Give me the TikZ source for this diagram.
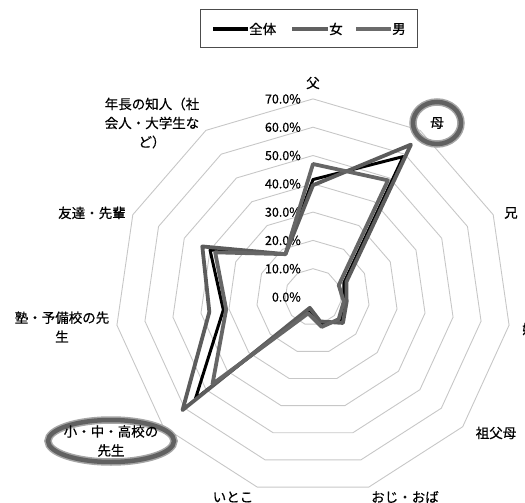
\documentclass[tikz,border=0pt]{standalone}
\usepackage{fontspec}
\setmainfont{Noto Sans CJK JP}[FakeBold=0.5]
\usepackage{tikz}

\tikzset{
  ring/.style={black!22, line width=0.9pt},
  axislabel/.style={font=\fontsize{13.5}{19}\selectfont, align=center, inner sep=0pt},
  pctlabel/.style={font=\fontsize{12.5}{13}\selectfont, anchor=east, inner sep=0pt},
  series/.style={line width=#1, line join=round},
  circlemark/.style={black!62, line width=4.5pt}
}

\begin{document}
\begin{tikzpicture}[x=1pt,y=-1pt]
\useasboundingbox (0,0) rectangle (525,503);
\clip (0,0) rectangle (525,503);

% legend
\draw[black!70, line width=1pt] (200,10) rectangle (417,48);
\draw[black, line width=3.5pt] (213,29) -- (248,29);
\node[axislabel, anchor=west] (lgall) at (249,29) {全体};
\draw[black!62, line width=3.5pt] (292,29) -- (328,29);
\node[axislabel, anchor=west] (lgf) at (329,29) {女};
\draw[black!58, line width=3.5pt] (356,29) -- (391,29);
\node[axislabel, anchor=west] (lgm) at (392,29) {男};

\begin{scope}[shift={(313,297)}]
% rings
\foreach \k in {1,...,7}
  \draw[ring] plot[samples at={0,...,10}] (\x*360/11-90:28.3*\k) -- cycle;

% scale
\foreach \k in {0,...,7}{
  \pgfmathtruncatemacro\v{10*\k}
  \node[pctlabel] (pct\k) at (-12,-28.3*\k) {\v.0\%};
}

% data: 全体, 女, 男
\foreach \v [count=\i from 0] in {41.5,59,12,11,13,10,5,55,32,40,18}
  \coordinate (a\i) at (\i*360/11-90:2.83*\v);
\foreach \v [count=\i from 0] in {39.5,64,13,12,14,9,4,61,37,43,18}
  \coordinate (f\i) at (\i*360/11-90:2.83*\v);
\foreach \v [count=\i from 0] in {47,49,10,11,12,11,6,47,31,38,18}
  \coordinate (m\i) at (\i*360/11-90:2.83*\v);

\draw[series=3pt, black] (a0) \foreach \i in {1,...,10}{ -- (a\i)} -- cycle;
\draw[series=3.8pt, black!64] (f0) \foreach \i in {1,...,10}{ -- (f\i)} -- cycle;
\draw[series=3.8pt, black!60] (m0) \foreach \i in {1,...,10}{ -- (m\i)} -- cycle;
\end{scope}

% circled labels
\draw[black!35, line width=7.5pt] (437,123) ellipse (24 and 21);
\draw[circlemark] (437,123) ellipse (24 and 21);
\draw[black!35, line width=7.5pt] (111,441) ellipse (63 and 21);
\draw[circlemark] (111,441) ellipse (63 and 21);

% axis labels
\node[axislabel] (father) at (313,83) {父};
\node[axislabel] (mother) at (437,123) {母};
\node[axislabel] (brother) at (511,213) {兄};
\node[axislabel] (sister) at (529,329) {姉};
\node[axislabel] (grand) at (496,433) {祖父母};
\node[axislabel] (aunt) at (405,497) {おじ・おば};
\node[axislabel] (cousin) at (233,497) {いとこ};
\node[axislabel] (school) at (111,441) {小・中・高校の\\先生};
\node[axislabel] (cram) at (62,327) {塾・予備校の先\\生};
\node[axislabel] (friend) at (92,213) {友達・先輩};
\node[axislabel] (elder) at (152,123) {年長の知人（社\\会人・大学生な\\ど）};
\end{tikzpicture}
\end{document}
